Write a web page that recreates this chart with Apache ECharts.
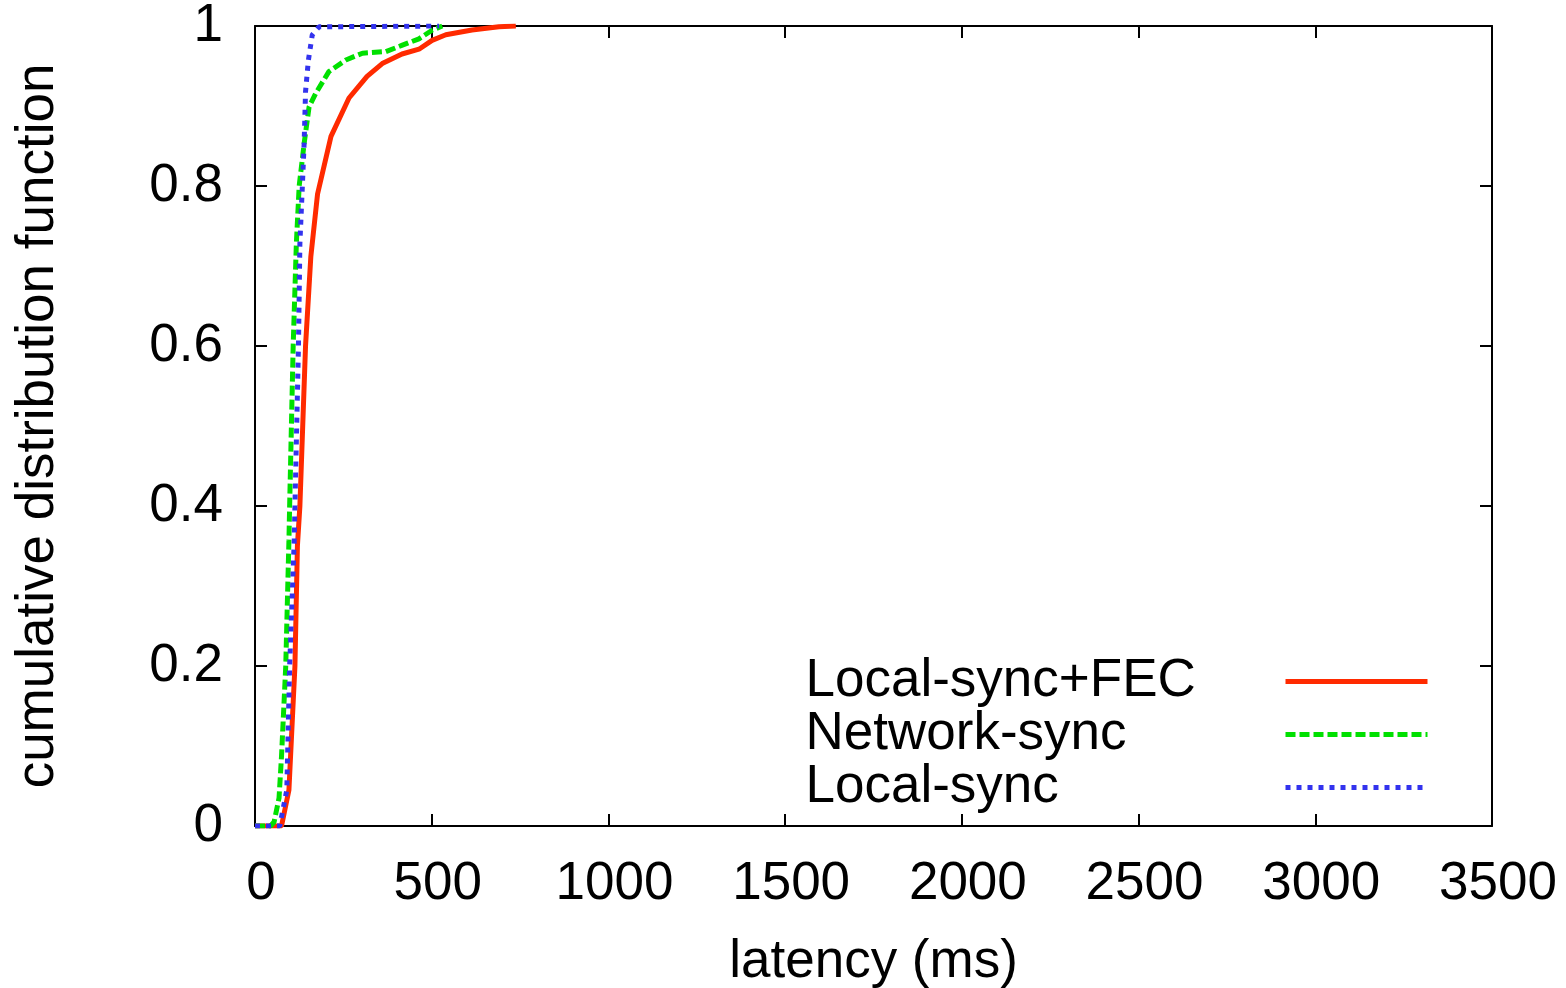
<!DOCTYPE html>
<html>
<head>
<meta charset="utf-8">
<script src="https://cdn.jsdelivr.net/npm/echarts@6/dist/echarts.min.js"></script>
<style>
  html, body { margin: 0; padding: 0; background: #fff; }
  #chart { width: 1566px; height: 988px; }
</style>
</head>
<body>
<div id="chart"></div>
<script>
// latency (ms) vs cdf
const fecLatency = [0, 75, 96, 113, 120, 127, 143, 158, 177, 215, 266, 317, 360, 416, 464, 501, 540, 614, 690, 738];
const fecCdf     = [0, 0, 0.045, 0.2, 0.35, 0.4, 0.6, 0.712, 0.79, 0.862, 0.91, 0.937, 0.953, 0.965, 0.971, 0.982, 0.989, 0.995, 0.999, 1];

const netLatency = [0, 44, 54, 68, 75, 87, 96, 98, 108, 117, 125, 139, 153, 172, 209, 257, 304, 370, 417, 464, 502, 530];
const netCdf     = [0, 0, 0.005, 0.035, 0.087, 0.2, 0.357, 0.4, 0.6, 0.728, 0.8, 0.853, 0.899, 0.916, 0.943, 0.9575, 0.966, 0.968, 0.976, 0.984, 0.995, 1];

const localLatency = [0, 70, 90, 98, 111, 113, 123, 127, 134, 139, 143, 151, 162, 181, 521];
const localCdf     = [0, 0, 0.045, 0.2, 0.357, 0.4, 0.6, 0.728, 0.8, 0.853, 0.918, 0.957, 0.989, 0.999, 1];

const seriesNames = ['Local-sync+FEC', 'Network-sync', 'Local-sync'];
const xTicks = [0, 500, 1000, 1500, 2000, 2500, 3000, 3500];
const yTicks = [0, 0.2, 0.4, 0.6, 0.8, 1];

const zip = (xs, ys) => xs.map((x, i) => [x, ys[i]]);

const FONT = 'Liberation Sans, Arial, sans-serif';
const FS = 53;

// box frame with ticks pointing inward on all sides
const frameAxis = () => ({
  axisLine: { show: true, onZero: false, lineStyle: { color: '#000', width: 2 } },
  axisTick: { show: true, inside: true, length: 12, lineStyle: { color: '#000', width: 2 } },
  splitLine: { show: false }
});

const chart = echarts.init(document.getElementById('chart'));
chart.setOption({
  animation: false,
  backgroundColor: '#fff',
  grid: { left: 255, right: 74, top: 26, bottom: 162, containLabel: false, outerBoundsMode: 'none' },
  xAxis: [
    Object.assign({
      type: 'value', min: 0, max: 3500, interval: 500, position: 'bottom',
      name: 'latency (ms)', nameLocation: 'middle', nameGap: 110,
      nameTextStyle: { fontFamily: FONT, fontSize: FS, color: '#000' },
      axisLabel: { margin: 32, fontFamily: FONT, fontSize: FS, color: '#000', padding: [0, 0, 0, 12],
        formatter: v => xTicks.includes(v) ? String(v) : '' }
    }, frameAxis()),
    Object.assign({
      type: 'value', min: 0, max: 3500, interval: 500, position: 'top',
      axisLabel: { show: false }
    }, frameAxis())
  ],
  yAxis: [
    Object.assign({
      type: 'value', min: 0, max: 1, interval: 0.2, position: 'left',
      name: 'cumulative distribution function', nameLocation: 'middle', nameGap: 190, nameRotate: 90,
      nameTextStyle: { fontFamily: FONT, fontSize: FS, color: '#000' },
      axisLabel: { margin: 32, fontFamily: FONT, fontSize: FS, color: '#000',
        formatter: v => yTicks.some(t => Math.abs(t - v) < 1e-9) ? String(+v.toFixed(1)) : '' }
    }, frameAxis()),
    Object.assign({
      type: 'value', min: 0, max: 1, interval: 0.2, position: 'right',
      axisLabel: { show: false }
    }, frameAxis())
  ],
  legend: {
    right: 136, top: 655, orient: 'vertical', align: 'right', padding: 0,
    itemWidth: 142, itemHeight: 10, itemGap: 0,
    itemStyle: { opacity: 0 },
    lineStyle: { width: 5 },
    formatter: name => '{t|' + name + '}',
    textStyle: {
      rich: { t: { fontFamily: FONT, fontSize: FS, lineHeight: 53, color: '#000', width: 475, align: 'left' } }
    },
    data: seriesNames
  },
  series: [
    {
      name: seriesNames[0], type: 'line', xAxisIndex: 0, yAxisIndex: 0,
      data: zip(fecLatency, fecCdf), symbol: 'none',
      lineStyle: { color: '#ff2a00', width: 5, type: 'solid' },
      itemStyle: { color: '#ff2a00' }
    },
    {
      name: seriesNames[1], type: 'line', xAxisIndex: 0, yAxisIndex: 0,
      data: zip(netLatency, netCdf), symbol: 'none',
      lineStyle: { color: '#00e000', width: 5, type: [10, 4] },
      itemStyle: { color: '#00e000' }
    },
    {
      name: seriesNames[2], type: 'line', xAxisIndex: 0, yAxisIndex: 0,
      data: zip(localLatency, localCdf), symbol: 'none',
      lineStyle: { color: '#3333ee', width: 5, type: [5, 6] },
      itemStyle: { color: '#3333ee' }
    }
  ]
});
</script>
</body>
</html>
